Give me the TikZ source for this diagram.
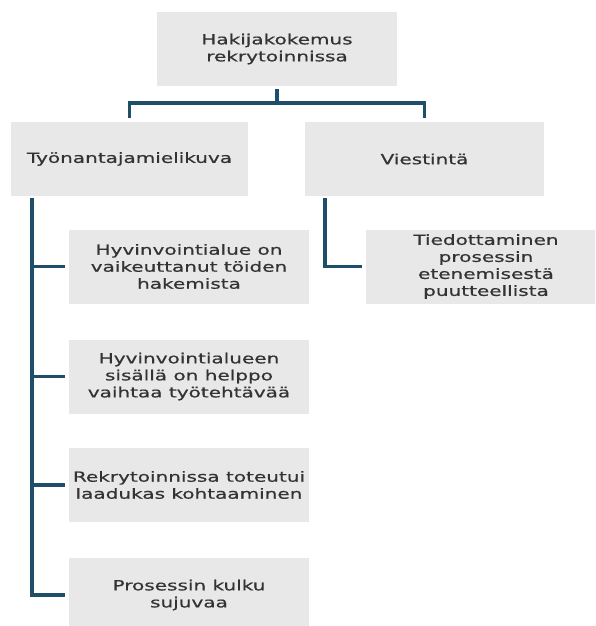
\documentclass[tikz,border=0pt]{standalone}
\usepackage{fontspec}
\setmainfont{DejaVu Sans}[FakeStretch=1.43,FakeBold=0.6]
\definecolor{boxgrey}{HTML}{E8E8E8}
\definecolor{linkblue}{HTML}{1F4E6B}
\definecolor{txtgrey}{HTML}{333333}
\begin{document}
\begin{tikzpicture}[x=1pt,y=-1pt,
  box/.style={fill=boxgrey, minimum width=240pt, minimum height=74pt,
    inner sep=0pt, align=center, text=txtgrey,
    font=\fontsize{14}{17}\selectfont},
  conn/.style={draw=linkblue, line width=3.5pt}]
% page frame (also clips the boxes that run off the edge)
\clip (0,0) rectangle (595,626);

% tree nodes
\node[box] (root) at (277,49) {Hakijakokemus\\rekrytoinnissa};
\node[box, minimum width=237pt] (emp) at (129.5,159) {Työnantajamielikuva};
\node[box, minimum width=239pt] (com) at (424.5,159) {Viestintä};

\node[box] (c1) at (189,266.5) {Hyvinvointialue on\\vaikeuttanut töiden\\hakemista};
\node[box] (c2) at (189,376.5) {Hyvinvointialueen\\sisällä on helppo\\vaihtaa työtehtävää};
\node[box] (c3) at (189,485) {Rekrytoinnissa toteutui\\laadukas kohtaaminen};
\node[box] (c4) at (189,595) {Prosessin kulku\\sujuvaa};

\node[box] (d1) at (486,266.5) {Tiedottaminen\\prosessin\\etenemisestä\\puutteellista};

% top bracket
\coordinate (bus) at (277,103);
\draw[conn, shorten <=3pt] (root.south) -- (bus);
\draw[conn, shorten <=4pt, shorten >=4pt] (emp.north) |- (bus) -| (com.north);

% left branch spine and stubs
\coordinate (spine) at (32,0);
\draw[conn, shorten <=2pt, shorten >=4pt] (spine |- emp.south) |- (c4.west);
\foreach \n in {c1,c2,c3}
  \draw[conn, shorten >=4pt] (spine |- \n.west) -- (\n.west);

% right branch
\coordinate (rspine) at (325,0);
\draw[conn, shorten <=2pt, shorten >=4pt] (rspine |- com.south) |- (d1.west);
\end{tikzpicture}
\end{document}
